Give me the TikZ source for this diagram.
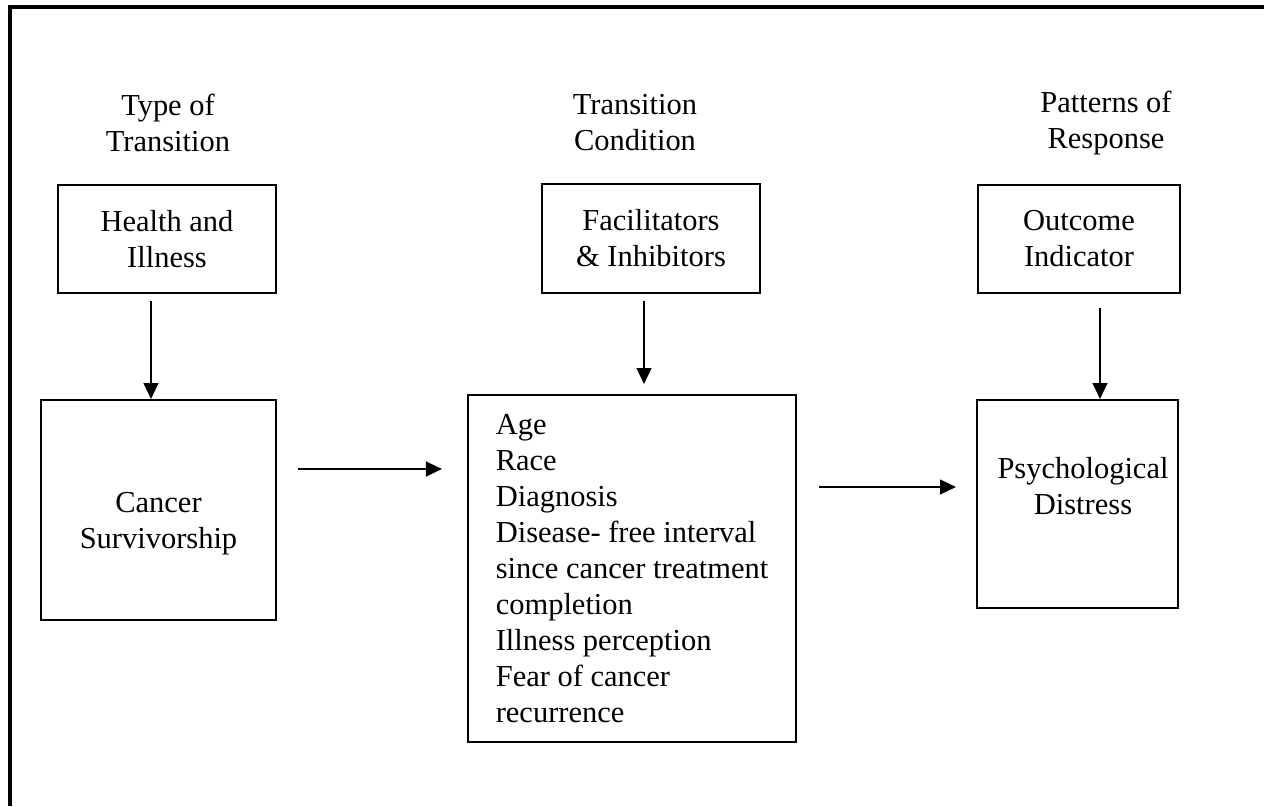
\documentclass[tikz,border=0pt]{standalone}
\usepackage{fontspec}
\setmainfont{Liberation Serif}
\usetikzlibrary{positioning, arrows.meta}
\newcommand{\px}{0.3938pt}
\tikzstyle{blackRectangle} = [
    rectangle,
    draw,
    thick,
    inner sep=0pt,
    align=center,
    font=\fontsize{12pt}{14.2pt}\selectfont
    ]
\tikzstyle{headingText} = [
    align=center,
    inner sep=0pt,
    font=\fontsize{12pt}{14.2pt}\selectfont
    ]
\tikzstyle{flowArrow} = [
    thick,
    -{Triangle[length=6.3pt, width=5.8pt]}
    ]

\begin{document}
\begin{tikzpicture}[x=\px, y=-\px]
      \useasboundingbox (0,0) rectangle (1264,806);
      \draw[very thick] (10,806) -- (10,7) -- (1264,7);
      % column headings
      \node[headingText] (typeHead) at (168,123) {Type of\\Transition};
      \node[headingText] (conditionHead) at (635,123) {Transition\\Condition};
      \node[headingText] (responseHead) at (1106,123) {Patterns of\\Response};
      % upper boxes
      \node[blackRectangle, minimum width=218*\px, minimum height=108*\px] at (167,239) (health) {Health and\\Illness};
      \node[blackRectangle, minimum width=218*\px, minimum height=109*\px] at (651,238.5) (facilitators) {Facilitators\\\& Inhibitors};
      \node[blackRectangle, minimum width=202*\px, minimum height=108*\px] at (1079,239) (outcome) {Outcome\\Indicator};
      % lower boxes
      \node[blackRectangle, minimum width=235*\px, minimum height=220*\px] at (158.5,510) (cancer) {};
      \node[headingText] at (158.5,524) (cancerText) {Cancer\\Survivorship};
      \node[blackRectangle, align=left, minimum width=328*\px, minimum height=347*\px] at (632,568.5) (factors) {Age\\Race\\Diagnosis\\Disease- free interval\\since cancer treatment\\completion\\Illness perception\\Fear of cancer\\recurrence};
      \node[blackRectangle, minimum width=201*\px, minimum height=208*\px] at (1077.5,504) (distress) {};
      \node[headingText] at (1083,486) (distressText) {Psychological\\Distress};
      % connectors
      \draw[flowArrow] ([xshift=-16*\px, yshift=-7*\px]health.south) -- ([xshift=-7.5*\px]cancer.north);
      \draw[flowArrow] ([xshift=-7*\px, yshift=-7*\px]facilitators.south) -- ([xshift=12*\px, yshift=10*\px]factors.north);
      \draw[flowArrow] ([xshift=21*\px, yshift=-14*\px]outcome.south) -- ([xshift=22.5*\px]distress.north);
      \draw[flowArrow] ([xshift=21*\px, yshift=41*\px]cancer.east) -- ([xshift=-25*\px, yshift=99.5*\px]factors.west);
      \draw[flowArrow] ([xshift=22*\px, yshift=81.5*\px]factors.east) -- ([xshift=-20*\px, yshift=17*\px]distress.west);
    \end{tikzpicture}
\end{document}
